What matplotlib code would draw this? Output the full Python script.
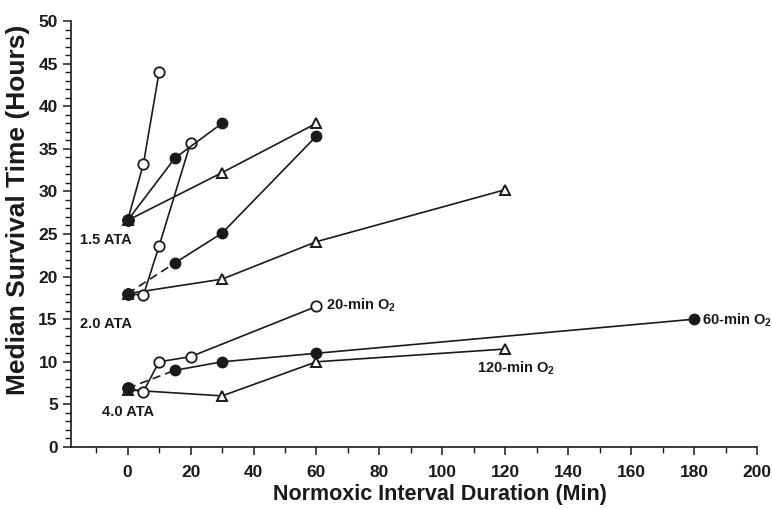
import matplotlib
matplotlib.use("Agg")
import matplotlib.pyplot as plt

plt.rcParams['font.family'] = ['Liberation Sans', 'DejaVu Sans']
plt.rcParams['mathtext.fontset'] = 'custom'
plt.rcParams['mathtext.rm'] = 'Liberation Sans:bold'
plt.rcParams['mathtext.bf'] = 'Liberation Sans:bold'

# ---- data: (interval minutes, median survival hours) ----
# 1.5 ATA
a15_20_x = [0, 5, 10]
a15_20_y = [26.6, 33.2, 44.0]
a15_60_x = [0, 15, 30]
a15_60_y = [26.6, 33.9, 38.0]
a15_120_x = [0, 30, 60]
a15_120_y = [26.6, 32.2, 38.0]
# 2.0 ATA
a20_20_x = [0, 5, 10, 20]
a20_20_y = [18.0, 17.8, 23.6, 35.7]
a20_60_x = [0, 15, 30, 60]
a20_60_y = [18.0, 21.6, 25.1, 36.5]
a20_120_x = [0, 30, 60, 120]
a20_120_y = [18.0, 19.7, 24.1, 30.2]
# 4.0 ATA
a40_20_x = [0, 5, 10, 20, 60]
a40_20_y = [6.9, 6.5, 10.0, 10.6, 16.5]
a40_60_x = [0, 15, 30, 60, 180]
a40_60_y = [6.9, 9.0, 10.0, 11.0, 15.0]
a40_120_x = [0, 30, 60, 120]
a40_120_y = [6.7, 6.0, 10.0, 11.5]

x_ticks = [0, 20, 40, 60, 80, 100, 120, 140, 160, 180, 200]
y_ticks = [0, 5, 10, 15, 20, 25, 30, 35, 40, 45, 50]

fig = plt.figure(figsize=(7.72, 5.09), dpi=100)
ax = fig.add_axes([71/772, 1 - 447/509, (757-71)/772, (447-21)/509])

lw = 1.2
ms_c = 7.5
ms_t = 6.5
k = '#1a1a1a'

open_c = dict(marker='o', markersize=ms_c, markerfacecolor='white', markeredgecolor=k,
              markeredgewidth=1.3, color=k, lw=lw)
fill_c = dict(marker='o', markersize=ms_c, markerfacecolor=k, markeredgecolor=k,
              color=k, lw=lw)
tri = dict(marker='^', markersize=ms_t, markerfacecolor='white', markeredgecolor=k,
           markeredgewidth=1.4, color=k, lw=lw)

# 120-min
for xs, ys in [(a15_120_x, a15_120_y), (a20_120_x, a20_120_y), (a40_120_x, a40_120_y)]:
    ax.plot(xs, ys, zorder=2, **tri)
# 20-min
for xs, ys in [(a15_20_x, a15_20_y), (a20_20_x, a20_20_y), (a40_20_x, a40_20_y)]:
    ax.plot(xs, ys, zorder=3, **open_c)
# 60-min (first segment dashed at 2.0 and 4.0 ATA)
ax.plot(a15_60_x, a15_60_y, zorder=4, **fill_c)
for xs, ys in [(a20_60_x, a20_60_y), (a40_60_x, a40_60_y)]:
    ax.plot(xs[:2], ys[:2], color=k, lw=lw, ls=(0, (5, 3)), zorder=4)
    ax.plot(xs[1:], ys[1:], zorder=4, **fill_c)
# starting points filled on top
for xs, ys in [(a15_60_x, a15_60_y), (a20_60_x, a20_60_y), (a40_60_x, a40_60_y)]:
    ax.plot(xs[0], ys[0], ls='none', marker='o', markersize=ms_c + 0.5, color=k, zorder=6)

ax.set_xlim(-18, 200)
ax.set_ylim(0, 50)
ax.set_xticks(x_ticks)
ax.set_xticks(list(range(-10, 200, 20)), minor=True)
ax.set_yticks(y_ticks)
ax.set_yticks([v for v in range(0, 51) if v % 5], minor=True)
ax.tick_params(axis='both', which='major', length=6, width=1.1, labelsize=12.5, direction='out', color=k)
ax.tick_params(axis='both', which='minor', length=4, width=1.0, direction='out', color=k)
ax.tick_params(axis='x', pad=7)
for lab in ax.get_xticklabels() + ax.get_yticklabels():
    lab.set_fontweight('bold')
    lab.set_color(k)
for s in ['top', 'right']:
    ax.spines[s].set_visible(False)
for s in ['left', 'bottom']:
    ax.spines[s].set_linewidth(1.2)
    ax.spines[s].set_color(k)

ax.set_xlabel('Normoxic Interval Duration (Min)', fontsize=15.5, fontweight='bold', color=k)
ax.xaxis.set_label_coords((440 - 71) / 686, (447 - 484) / 426)
ax.set_ylabel('Median Survival Time (Hours)', fontsize=19, fontweight='bold', color=k)
ax.yaxis.set_label_coords((30 - 71) / 686, (447 - 210) / 426)

tk = dict(fontsize=10.5, fontweight='bold', color=k)
ax.text(-15, 24.3, '1.5 ATA', ha='left', va='center', **tk)
ax.text(-15, 14.4, '2.0 ATA', ha='left', va='center', **tk)
ax.text(-8, 4.1, '4.0 ATA', ha='left', va='center', **tk)
ax.text(63, 16.6, r'20-min O$_{\mathbf{2}}$', ha='left', va='center', **tk)
ax.text(182.5, 14.9, r'60-min O$_{\mathbf{2}}$', ha='left', va='center', **tk)
ax.text(111, 9.2, r'120-min O$_{\mathbf{2}}$', ha='left', va='center', **tk)

fig.savefig('out.png', dpi=100)
